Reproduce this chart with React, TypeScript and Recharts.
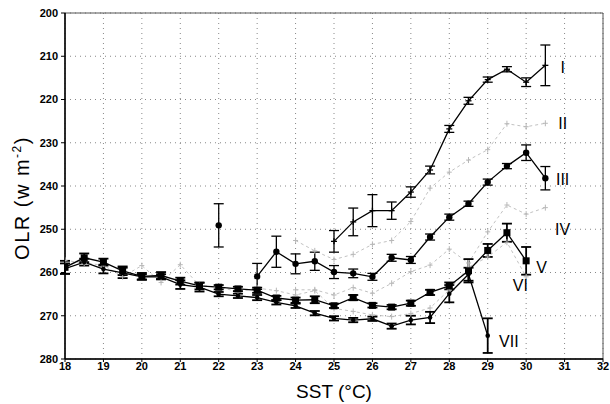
import React from 'react';
import {
  ComposedChart,
  Line,
  Scatter,
  XAxis,
  YAxis,
  CartesianGrid,
  ErrorBar,
  ReferenceArea
} from 'recharts';

// curve I (crosses)
const sstI = [25, 25.5, 26, 26.5, 27, 27.5, 28, 28.5, 29, 29.5, 30, 30.5];
const olrI = [252.8, 248.3, 245.7, 245.7, 241.4, 236.3, 226.8, 220.3, 215.4, 213.0, 216.0, 212.1];
const errI = [2.5, 3.2, 3.7, 2.0, 1.2, 0.9, 0.8, 0.8, 0.6, 0.6, 1.0, 4.7];

// curve III (filled circles), the 22 degC point stands alone
const sstIIIa = [22];
const olrIIIa = [249.1];
const errIIIa = [5.0];
const sstIII = [23, 23.5, 24, 24.5, 25, 25.5, 26, 26.5, 27, 27.5, 28, 28.5, 29, 29.5, 30, 30.5];
const olrIII = [260.9, 255.2, 258.0, 257.4, 259.9, 260.2, 261.0, 256.6, 257.1, 251.8, 247.2, 244.1, 239.1, 235.4, 232.3, 238.2];
const errIII = [3.0, 3.6, 2.3, 2.1, 1.5, 1.0, 0.8, 0.8, 0.8, 0.7, 0.7, 0.6, 0.7, 0.6, 1.8, 2.7];

// curve V (filled squares)
const sstV = [18, 18.5, 19, 19.5, 20, 20.5, 21, 21.5, 22, 22.5, 23, 23.5, 24, 24.5, 25, 25.5, 26, 26.5, 27, 27.5, 28, 28.5, 29, 29.5, 30];
const olrV = [258.8, 256.6, 257.6, 259.6, 260.9, 260.7, 262.0, 263.1, 263.4, 263.8, 264.1, 265.9, 266.4, 266.3, 267.7, 265.8, 267.6, 268.0, 267.1, 264.6, 263.1, 259.6, 254.9, 250.8, 257.3];
const errV = [1.5, 1.0, 0.8, 1.0, 0.8, 0.8, 0.8, 0.8, 0.5, 0.5, 0.6, 0.5, 0.6, 0.8, 0.5, 0.6, 0.5, 0.5, 0.6, 0.6, 0.8, 2.7, 1.5, 2.1, 3.2];

// curve VII (small dots)
const sstVII = [18, 18.5, 19, 19.5, 20, 20.5, 21, 21.5, 22, 22.5, 23, 23.5, 24, 24.5, 25, 25.5, 26, 26.5, 27, 27.5, 28, 28.5, 29];
const olrVII = [259.1, 257.6, 259.2, 260.1, 261.0, 261.0, 262.8, 263.4, 265.0, 265.4, 265.8, 266.9, 267.7, 269.4, 270.6, 271.0, 270.7, 272.4, 271.0, 270.4, 264.9, 260.4, 274.6];
const errVII = [1.2, 0.8, 1.0, 1.2, 0.6, 0.6, 1.0, 1.0, 0.5, 0.5, 0.6, 0.5, 0.5, 0.5, 0.5, 0.5, 0.5, 0.6, 1.0, 1.3, 2.0, 1.5, 4.0];

// grey curves II, IV, VI
const sstII = [24, 24.5, 25, 25.5, 26, 26.5, 27, 27.5, 28, 28.5, 29, 29.5, 30, 30.5];
const olrII = [252.6, 255.0, 257.0, 255.8, 253.5, 252.6, 248.2, 240.5, 236.8, 234.0, 231.6, 225.6, 226.3, 225.5];
const sstIV = [24, 24.5, 25, 25.5, 26, 26.5, 27, 27.5, 28, 28.5, 29, 29.5, 30, 30.5];
const olrIV = [264.0, 264.0, 265.2, 263.5, 264.8, 262.5, 259.8, 258.3, 254.6, 257.8, 250.6, 244.4, 246.5, 245.0];
const sstVI = [18, 18.5, 19, 19.5, 20, 20.5, 21, 21.5, 22, 22.5, 23, 23.5, 24, 24.5, 25, 25.5, 26, 26.5, 27, 27.5, 28, 28.5, 29, 29.5, 30];
const olrVI = [257.2, 257.8, 258.3, 261.0, 258.4, 262.3, 258.2, 263.0, 263.4, 264.4, 263.6, 264.2, 265.2, 264.2, 268.3, 269.0, 269.8, 270.2, 269.5, 268.2, 264.0, 258.8, 256.4, 253.0, 261.0];

// curve labels
const labelText = ['I', 'II', 'III', 'IV', 'V', 'VI', 'VII'];
const labelSst = [30.95, 30.95, 30.95, 30.95, 30.4, 29.85, 29.55];
const labelOlr = [212.5, 225.6, 238.6, 250.0, 258.8, 263.1, 276.0];

const xTicks = [18, 19, 20, 21, 22, 23, 24, 25, 26, 27, 28, 29, 30, 31, 32];
const yTicks = [200, 210, 220, 230, 240, 250, 260, 270, 280];

const toRows = (xs: number[], ys: number[], es?: number[]) =>
  xs.map((x, i) => ({ x, y: ys[i], err: es ? es[i] : 0 }));

const dataI = toRows(sstI, olrI, errI);
const dataIIIa = toRows(sstIIIa, olrIIIa, errIIIa);
const dataIII = toRows(sstIII, olrIII, errIII);
const dataV = toRows(sstV, olrV, errV);
const dataVII = toRows(sstVII, olrVII, errVII);
const dataII = toRows(sstII, olrII);
const dataIV = toRows(sstIV, olrIV);
const dataVI = toRows(sstVI, olrVI);
const labelData = labelText.map((t, i) => ({ x: labelSst[i], y: labelOlr[i], t }));

const FONT = "'Liberation Sans', Arial, sans-serif";
const NARROW = "'Liberation Sans Narrow', 'Liberation Sans', Arial, sans-serif";

const crossDot = (props: any) => {
  const { cx, cy, index } = props;
  if (cx == null || cy == null) return <g key={index} />;
  return (
    <g key={index} stroke="#000" strokeWidth={1.3}>
      <line x1={cx - 3} y1={cy} x2={cx + 3} y2={cy} />
      <line x1={cx} y1={cy - 3} x2={cx} y2={cy + 3} />
    </g>
  );
};

const circleDot = (props: any) => {
  const { cx, cy, index } = props;
  if (cx == null || cy == null) return <g key={index} />;
  return <circle key={index} cx={cx} cy={cy} r={3.2} fill="#000" />;
};

const squareDot = (props: any) => {
  const { cx, cy, index } = props;
  if (cx == null || cy == null) return <g key={index} />;
  return <rect key={index} x={cx - 3.5} y={cy - 3.5} width={7} height={7} fill="#000" />;
};

const smallDot = (props: any) => {
  const { cx, cy, index } = props;
  if (cx == null || cy == null) return <g key={index} />;
  return <circle key={index} cx={cx} cy={cy} r={2.3} fill="#000" />;
};

const greyDot = (props: any) => {
  const { cx, cy, index } = props;
  if (cx == null || cy == null) return <g key={index} />;
  return (
    <g key={index} stroke="#b8b8b8" strokeWidth={1}>
      <line x1={cx - 2.5} y1={cy} x2={cx + 2.5} y2={cy} />
      <line x1={cx} y1={cy - 3} x2={cx} y2={cy + 3} />
    </g>
  );
};

const curveLabel = (props: any) => {
  const { cx, cy, payload } = props;
  return (
    <text x={cx} y={cy} textAnchor="middle" dominantBaseline="central" fontSize={16} fontFamily={NARROW} fill="#000" stroke="none">
      {payload.t}
    </text>
  );
};

const yTitle = () => (
  <text
    transform="translate(29, 198) rotate(-90)"
    textAnchor="middle"
    fontSize={20}
    fontFamily={FONT}
    letterSpacing={1.5}
    fill="#000"
  >
    OLR (w m<tspan dy={-8} fontSize={12}>-2</tspan><tspan dy={8}>)</tspan>
  </text>
);

const App: React.FC = () => {
  return (
    <div style={{ position: 'absolute', left: 0, top: 0, width: 610, height: 404, background: '#fff' }}>
      <ComposedChart width={610} height={404} margin={{ top: 13, right: 7, bottom: 0, left: 0 }}>
        <CartesianGrid stroke="#888" strokeDasharray="1 4" />
        <XAxis
          type="number"
          dataKey="x"
          domain={[18, 32]}
          ticks={xTicks}
          allowDataOverflow
          height={45}
          tickSize={3}
          tickLine={{ stroke: '#000' }}
          axisLine={{ stroke: '#000', strokeWidth: 1.5 }}
          tick={{ fontSize: 11, fontWeight: 'bold', fontFamily: NARROW, fill: '#000' }}
          tickMargin={0}
          label={{ value: 'SST (°C)', position: 'insideBottom', offset: 6, style: { fontSize: 19, fontFamily: NARROW, fill: '#000' } }}
        />
        <YAxis
          type="number"
          dataKey="y"
          domain={[200, 280]}
          reversed
          ticks={yTicks}
          allowDataOverflow
          width={65}
          tickSize={4}
          tickLine={{ stroke: '#000' }}
          axisLine={{ stroke: '#000', strokeWidth: 1.5 }}
          tick={{ fontSize: 11, fontWeight: 'bold', fontFamily: NARROW, fill: '#000' }}
          tickMargin={3}
          label={{ content: yTitle }}
        />
        <ReferenceArea x1={18} x2={32} y1={200} y2={280} fill="none" stroke="#555" strokeWidth={1} ifOverflow="visible" />

        <Line data={dataII} dataKey="y" stroke="#c2c2c2" strokeWidth={1} strokeDasharray="3 3" dot={greyDot} isAnimationActive={false} />
        <Line data={dataIV} dataKey="y" stroke="#c2c2c2" strokeWidth={1} strokeDasharray="3 3" dot={greyDot} isAnimationActive={false} />
        <Line data={dataVI} dataKey="y" stroke="#c2c2c2" strokeWidth={1} strokeDasharray="3 3" dot={greyDot} isAnimationActive={false} />

        <Line data={dataI} dataKey="y" stroke="#000" strokeWidth={1.3} dot={crossDot} isAnimationActive={false}>
          <ErrorBar dataKey="err" direction="y" width={5} stroke="#000" strokeWidth={1.3} />
        </Line>
        <Line data={dataIIIa} dataKey="y" stroke="#000" strokeWidth={1.3} dot={circleDot} isAnimationActive={false}>
          <ErrorBar dataKey="err" direction="y" width={5} stroke="#000" strokeWidth={1.3} />
        </Line>
        <Line data={dataIII} dataKey="y" stroke="#000" strokeWidth={1.3} dot={circleDot} isAnimationActive={false}>
          <ErrorBar dataKey="err" direction="y" width={5} stroke="#000" strokeWidth={1.3} />
        </Line>
        <Line data={dataV} dataKey="y" stroke="#000" strokeWidth={1.3} dot={squareDot} isAnimationActive={false}>
          <ErrorBar dataKey="err" direction="y" width={5} stroke="#000" strokeWidth={1.8} />
        </Line>
        <Line data={dataVII} dataKey="y" stroke="#000" strokeWidth={1.3} dot={smallDot} isAnimationActive={false}>
          <ErrorBar dataKey="err" direction="y" width={5} stroke="#000" strokeWidth={1.8} />
        </Line>

        <Scatter data={labelData} dataKey="y" shape={curveLabel} isAnimationActive={false} />
      </ComposedChart>
    </div>
  );
};

export default App;
